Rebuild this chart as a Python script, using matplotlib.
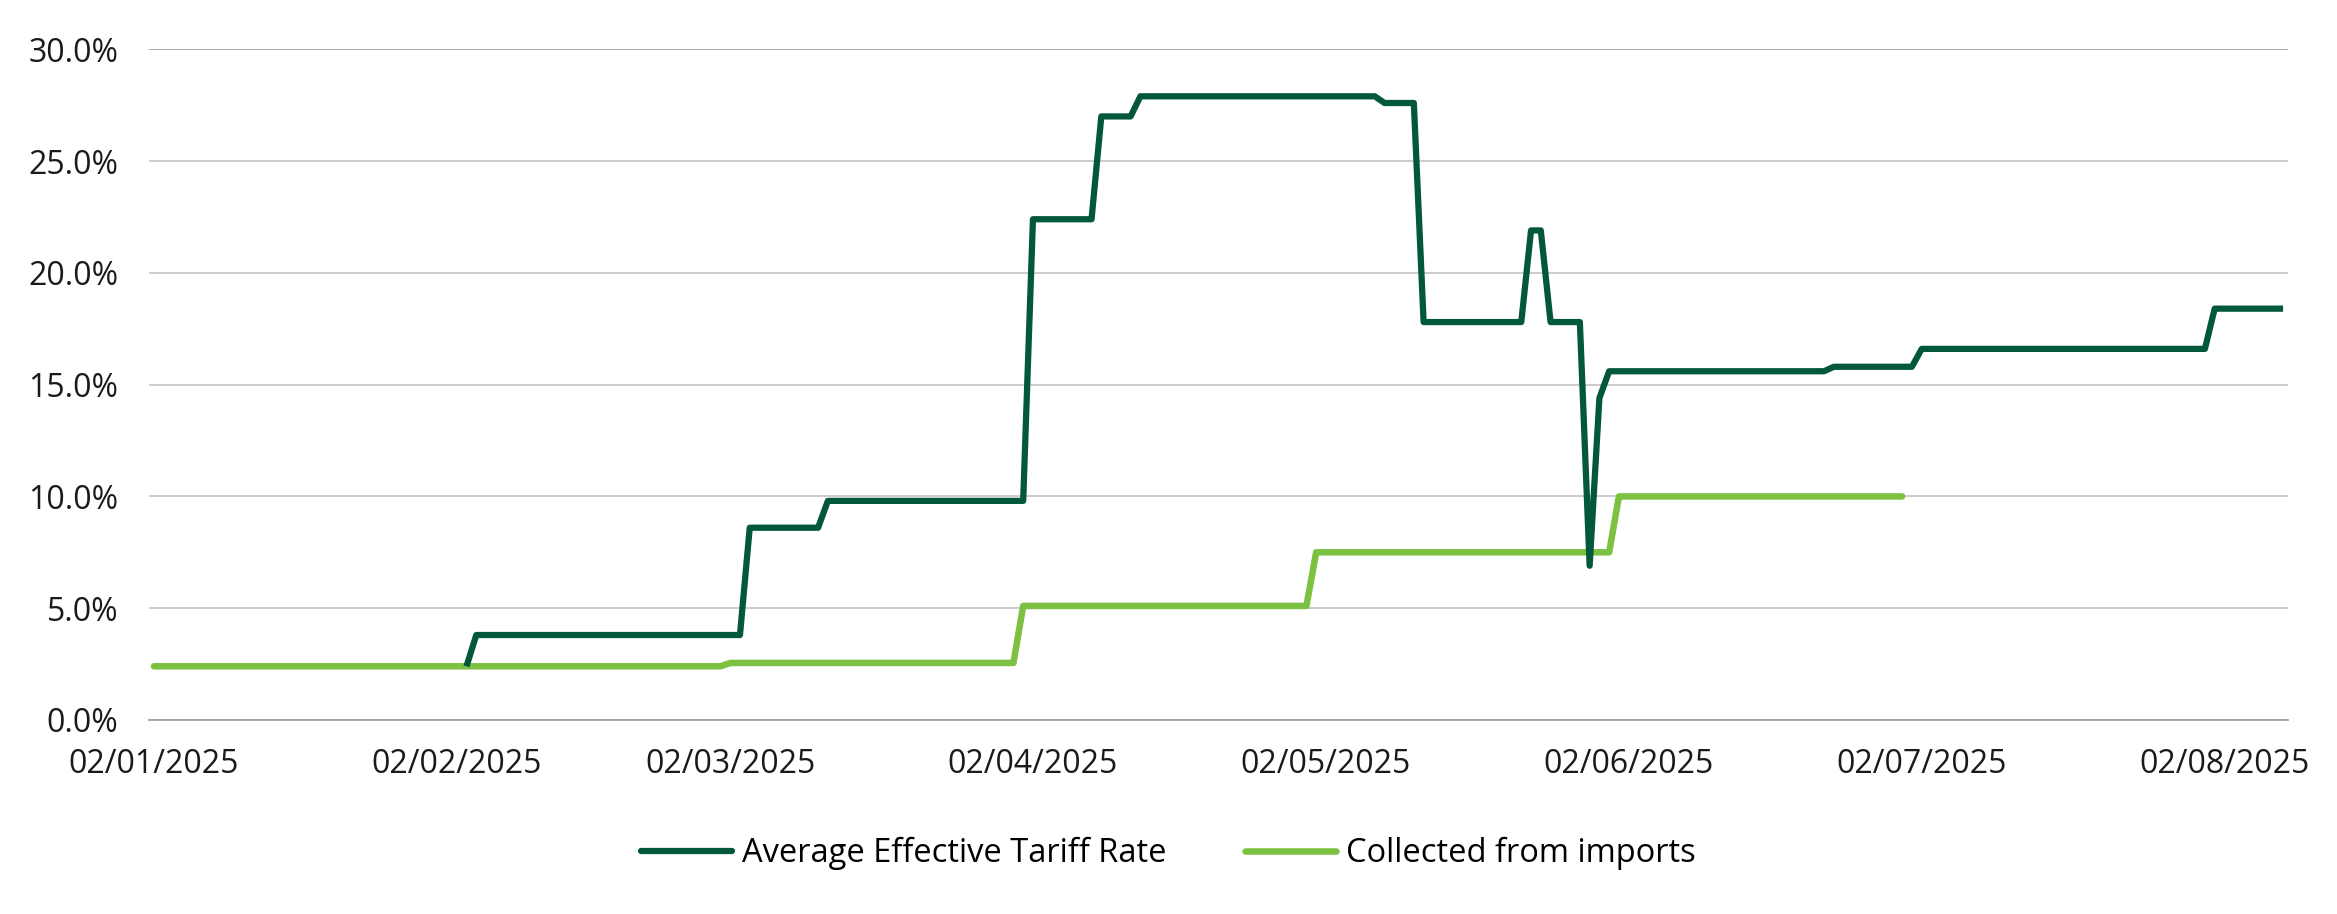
import pandas as pd
import matplotlib
matplotlib.use('Agg')
import matplotlib.pyplot as plt
import matplotlib.dates as mdates
from matplotlib.ticker import FuncFormatter

plt.rcParams['font.family'] = ['Open Sans', 'DejaVu Sans']

# breakpoints of the step series (first and last day of each level), in %
tariff_dates = ['2025-02-03', '2025-02-04', '2025-03-03', '2025-03-04', '2025-03-11',
                '2025-03-12', '2025-04-01', '2025-04-02', '2025-04-08', '2025-04-09',
                '2025-04-12', '2025-04-13', '2025-05-07', '2025-05-08', '2025-05-11',
                '2025-05-12', '2025-05-22', '2025-05-23', '2025-05-24', '2025-05-25',
                '2025-05-28', '2025-05-29', '2025-05-30', '2025-05-31', '2025-06-22',
                '2025-06-23', '2025-07-01', '2025-07-02', '2025-07-31', '2025-08-01',
                '2025-08-08']
tariff_rate = [2.4, 3.8, 3.8, 8.6, 8.6,
               9.8, 9.8, 22.4, 22.4, 27.0,
               27.0, 27.9, 27.9, 27.6, 27.6,
               17.8, 17.8, 21.9, 21.9, 17.8,
               17.8, 6.9, 14.4, 15.6, 15.6,
               15.8, 15.8, 16.6, 16.6, 18.4,
               18.4]

collected_dates = ['2025-01-02', '2025-03-01', '2025-03-02', '2025-03-31', '2025-04-01',
                   '2025-04-30', '2025-05-01', '2025-05-31', '2025-06-01', '2025-06-30']
collected_rate = [2.4, 2.4, 2.55, 2.55, 5.1,
                  5.1, 7.5, 7.5, 10.0, 10.0]

tick_dates = ['2025-01-02', '2025-02-02', '2025-03-02', '2025-04-02',
              '2025-05-02', '2025-06-02', '2025-07-02', '2025-08-02']
y_ticks = [0, 5, 10, 15, 20, 25, 30]

dark = '#03573A'
light = '#7CC142'

fig = plt.figure(figsize=(23.37, 9.14), dpi=100)
ax = fig.add_axes([0.0638, 0.2123, 0.9152, 0.7337])

ax.plot(pd.to_datetime(collected_dates), collected_rate, color=light, lw=4.7,
        solid_capstyle='round', solid_joinstyle='round', label='Collected from imports', zorder=3)
ax.plot(pd.to_datetime(tariff_dates), tariff_rate, color=dark, lw=4.5,
        solid_capstyle='butt', solid_joinstyle='round', label='Average Effective Tariff Rate', zorder=4)

ax.set_xlim(pd.Timestamp('2025-01-02') - pd.Timedelta(hours=12),
            pd.Timestamp('2025-08-08') + pd.Timedelta(hours=12))
ax.set_ylim(0, 30)
ax.set_yticks(y_ticks)
ax.yaxis.set_major_formatter(FuncFormatter(lambda v, p: f'{v:.1f}%'))
ax.set_xticks(pd.to_datetime(tick_dates))
ax.xaxis.set_major_formatter(mdates.DateFormatter('%d/%m/%Y'))

ax.tick_params(axis='both', length=0, labelsize=23, colors='#1a1a1a')
ax.tick_params(axis='y', pad=22)
ax.tick_params(axis='x', pad=20)
for s in ['top', 'right', 'left']:
    ax.spines[s].set_visible(False)
ax.spines['bottom'].set_color('#9a9a9a')
ax.spines['bottom'].set_linewidth(1.2)
ax.grid(axis='y', color='#c4c4c4', lw=1.2)
ax.get_ygridlines()[-1].set_color('#9a9a9a')
ax.set_axisbelow(True)

handles, labels = ax.get_legend_handles_labels()
leg = fig.legend(handles[::-1], labels[::-1], loc='center', bbox_to_anchor=(0.5, 0.066), ncol=2,
                 frameon=False, fontsize=23.5, handlelength=2.8, handletextpad=0.3, columnspacing=2.4)
for line in leg.get_lines():
    line.set_solid_capstyle('round')

fig.savefig('out.png', dpi=100)
